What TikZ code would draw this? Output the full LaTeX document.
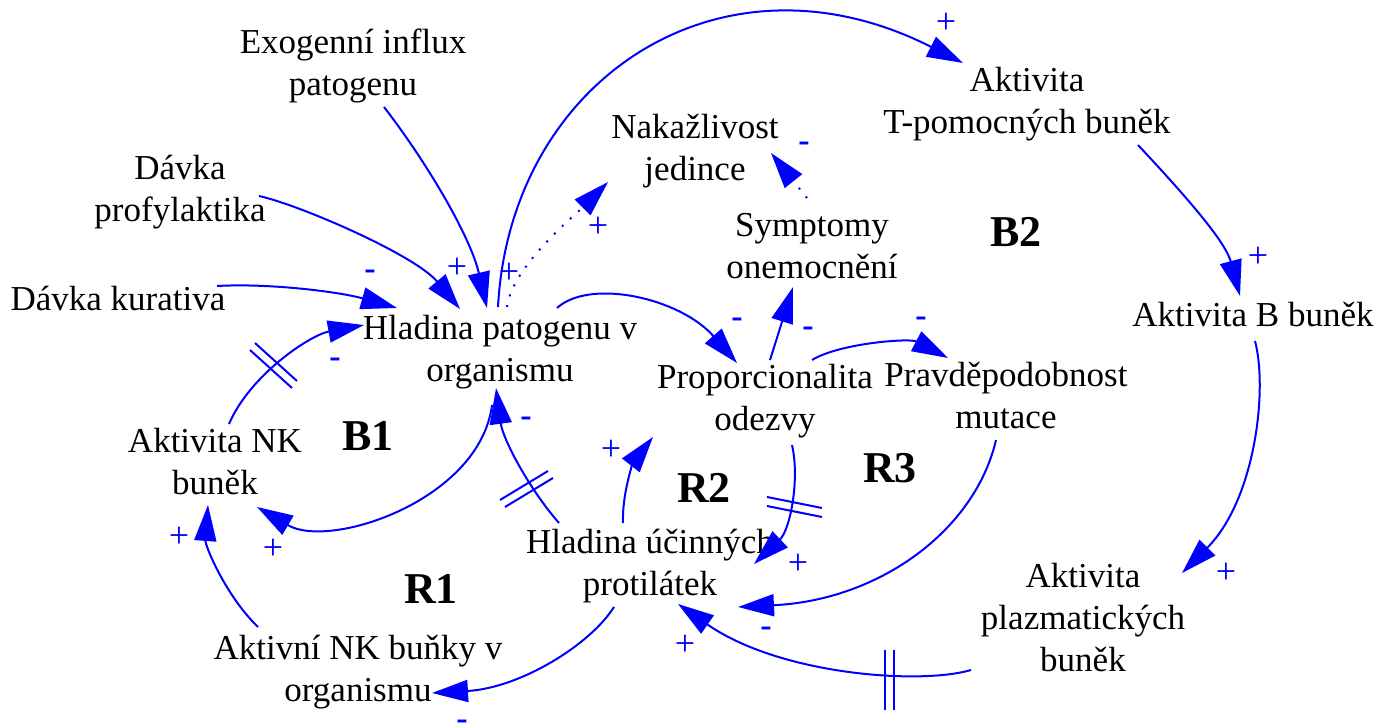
\documentclass[tikz,border=0pt]{standalone}
\usepackage{fontspec}
\setmainfont{Liberation Serif}
\usetikzlibrary{arrows.meta,calc}
\definecolor{lk}{RGB}{0,0,255}
\tikzset{
  var/.style={align=center, inner sep=0pt, font=\fontsize{35}{42}\selectfont},
  looplbl/.style={inner sep=0pt, font=\fontsize{44}{50}\selectfont\bfseries},
  lnk/.style={draw=lk, line width=2pt, -{Triangle[length=36pt,width=22pt]}},
  dotlnk/.style={lnk, dash pattern=on 2pt off 9pt},
  sgn/.style={text=lk, inner sep=0pt, font=\fontsize{36}{36}\selectfont},
  neg/.style={text=lk, inner sep=0pt, font=\fontsize{34}{34}\selectfont\bfseries},
  strk/.style={draw=lk, line width=2pt},
}
\begin{document}
\begin{tikzpicture}[x=1pt,y=-1pt]
\useasboundingbox (0,0) rectangle (1375,727);
% variables
\node[var] (ex)  at (353,66)  {Exogenní influx\\patogenu};
\node[var] (dp)  at (180,192) {Dávka\\profylaktika};
\node[var] (dk)  at (118,299) {Dávka kurativa};
\node[var] (hp)  at (500,352) {Hladina patogenu v\\organismu};
\node[var] (nak) at (695,151) {Nakažlivost\\jedince};
\node[var] (th)  at (1027,104) {Aktivita\\T-pomocných buněk};
\node[var] (sym) at (812,246) {Symptomy\\onemocnění};
\node[var] (ab)  at (1253,314) {Aktivita B buněk};
\node[var] (po)  at (765,401) {Proporcionalita\\odezvy};
\node[var] (pm)  at (1006,395) {Pravděpodobnost\\mutace};
\node[var] (nk)  at (215,462) {Aktivita NK\\buněk};
\node[var] (hu)  at (650,566) {Hladina účinných\\protilátek};
\node[var] (ank) at (358,672) {Aktivní NK buňky v\\organismu};
\node[var] (pl)  at (1083,618) {Aktivita\\plazmatických\\buněk};
% loop labels
\node[looplbl] (b2) at (1016,232) {B2};
\node[looplbl] (b1) at (368,436) {B1};
\node[looplbl] (r2) at (704,488) {R2};
\node[looplbl] (r3) at (890,468) {R3};
\node[looplbl] (r1) at (431,589) {R1};
% connectors
\draw[lnk] ($(ex)+(31,41)$) .. controls +(41,53) and +(-17,-73) .. ($(hp)+(-13,-44)$);
\draw[lnk] ($(dp)+(79,4)$) .. controls +(41,9) and +(-45,-54) .. ($(hp)+(-40,-43)$);
\draw[lnk] ($(dk)+(99,-13)$) .. controls +(53,-3) and +(-57,-16) .. ($(hp)+(-103,-44)$);
\draw[lnk] ($(hp)+(-2,-45)$) .. controls +(12,-227) and +(-243,-123) .. ($(th)+(-64,-41)$);
\draw[dotlnk] ($(hp)+(7,-45)$) .. controls +(5,-40) and +(-35,35) .. ($(nak)+(-87,31)$);
\draw[dotlnk] ($(sym)+(-5,-48)$) -- ($(nak)+(76,2)$);
\draw[lnk] ($(hp)+(57,-44)$) .. controls +(33,-30) and +(-57,-65) .. ($(po)+(-28,-38)$);
\draw[lnk] ($(po)+(5,-41)$) -- ($(sym)+(-19,41)$);
\draw[lnk] ($(po)+(47,-41)$) .. controls +(28,-17) and +(-38,-20) .. ($(pm)+(-58,-37)$);
\draw[lnk] ($(po)+(27,44)$) .. controls +(8,35) and +(36,-34) .. ($(hu)+(104,-2)$);
\draw[lnk] ($(pm)+(-10,45)$) .. controls +(-21,90) and +(142,-7) .. ($(hu)+(88,41)$);
\draw[lnk] ($(ab)+(2,27)$) .. controls +(13,49) and +(73,-73) .. ($(pl)+(99,-45)$);
\draw[lnk] ($(th)+(111,41)$) .. controls +(42,45) and +(-15,-56) .. ($(ab)+(-13,-18)$);
\draw[lnk] ($(pl)+(-112,52)$) .. controls +(-51,15) and +(102,71) .. ($(hu)+(28,38)$);
\draw[lnk] ($(hu)+(-27,-43)$) .. controls +(-1,-33) and +(-18,23) .. ($(po)+(-112,36)$);
\draw[lnk] ($(hu)+(-91,-43)$) .. controls +(-29,-33) and +(7,52) .. ($(hp)+(-4,36)$);
\draw[lnk] ($(hp)+(-8,53)$) .. controls +(-12,95) and +(73,43) .. ($(nk)+(42,45)$);
\draw[lnk] ($(nk)+(14,-38)$) .. controls +(21,-49) and +(-54,10) .. ($(hp)+(-136,-27)$);
\draw[lnk] ($(ank)+(-100,-45)$) .. controls +(-33,-32) and +(-3,40) .. ($(nk)+(-7,43)$);
\draw[lnk] ($(hu)+(-36,41)$) .. controls +(-24,38) and +(88,-5) .. ($(ank)+(74,21)$);
% delay marks
\draw[strk] (250,350) -- (292,388);
\draw[strk] (255,343) -- (297,381);
\draw[strk] (500,500) -- (548,471);
\draw[strk] (505,507) -- (553,478);
\draw[strk] (767,497) -- (822,508);
\draw[strk] (767,506) -- (822,517);
\draw[strk] (885,650) -- (885,710);
\draw[strk] (894,650) -- (894,710);
% polarity signs
\node[sgn] (s1)  at (946,23)  {+};
\node[sgn] (s2)  at (1258,257) {+};
\node[neg] (s3)  at (804,147) {-};
\node[sgn] (s4)  at (598,227) {+};
\node[neg] (s5)  at (370,275) {-};
\node[sgn] (s6)  at (457,268) {+};
\node[sgn] (s7)  at (509,273) {+};
\node[neg] (s8)  at (737,323) {-};
\node[neg] (s9)  at (808,332) {-};
\node[neg] (s10) at (921,322) {-};
\node[sgn] (s11) at (1226,573) {+};
\node[neg] (s12) at (335,363) {-};
\node[neg] (s13) at (526,422) {-};
\node[sgn] (s14) at (611,450) {+};
\node[sgn] (s15) at (798,564) {+};
\node[neg] (s16) at (766,632) {-};
\node[sgn] (s17) at (685,645) {+};
\node[sgn] (s18) at (273,549) {+};
\node[sgn] (s19) at (179,537) {+};
\node[neg] (s20) at (462,725) {-};
\end{tikzpicture}
\end{document}
